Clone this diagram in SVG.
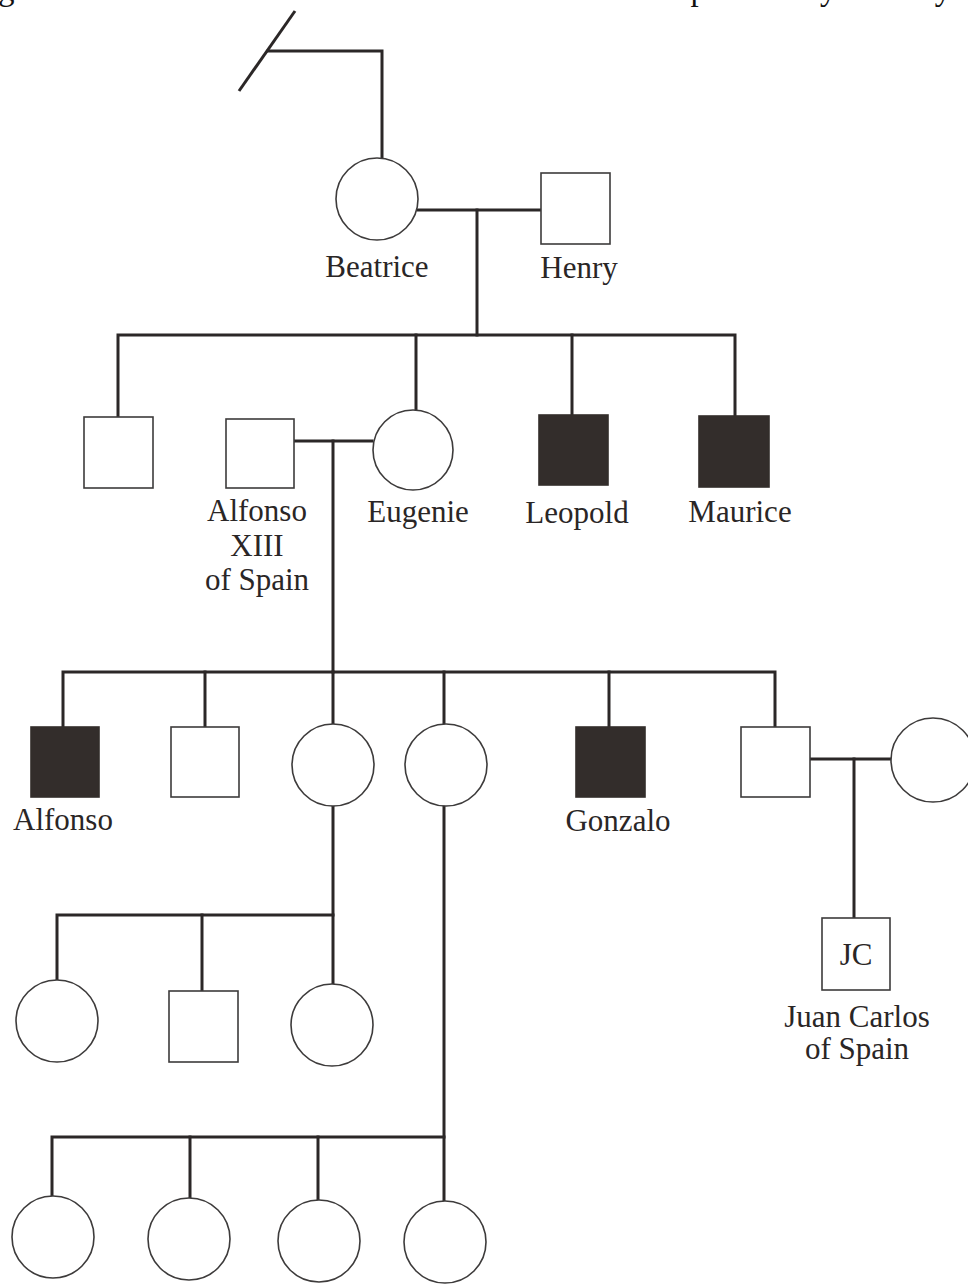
<svg xmlns="http://www.w3.org/2000/svg" width="968" height="1284" viewBox="0 0 968 1284">
<style>
.bg{fill:#ffffff}
.c{fill:none;stroke:#2b2727;stroke-width:3;stroke-linecap:square;stroke-linejoin:miter}
.f{fill:#ffffff;stroke:#3d3b3b;stroke-width:1.6}
.m{fill:#ffffff;stroke:#3d3b3b;stroke-width:1.6}
.a{fill:#332d2b;stroke:#332d2b;stroke-width:1.6}
.t{font-family:"Liberation Serif","Times New Roman",serif;font-size:31px;fill:#2a2626;text-anchor:middle}
.hdr{font-family:"Liberation Serif","Times New Roman",serif;font-size:33px;fill:#111111}
</style>
<rect class="bg" x="0" y="0" width="968" height="1284"/>
<text class="hdr" x="-2" y="0" textLength="959" lengthAdjust="spacing">gree below illustrates the inheritance of a trait in the Spanish Royal family.</text>
<g id="connectors">
  <path class="c" d="M239,91 L295,11" style="stroke-linecap:butt"/>
  <path class="c" d="M268,51 H382 V158"/>
  <path class="c" d="M418,210 H541"/>
  <path class="c" d="M477,210 V335"/>
  <path class="c" d="M118,417 V335 H735 V416"/>
  <path class="c" d="M416,335 V410"/>
  <path class="c" d="M572,335 V415"/>
  <path class="c" d="M294,441 H372"/>
  <path class="c" d="M333,441 V672"/>
  <path class="c" d="M63,727 V672 H775 V727"/>
  <path class="c" d="M205,672 V727"/>
  <path class="c" d="M333,672 V724"/>
  <path class="c" d="M444,672 V724"/>
  <path class="c" d="M609,672 V727"/>
  <path class="c" d="M810,759 H891"/>
  <path class="c" d="M854,759 V918"/>
  <path class="c" d="M333,806 V983"/>
  <path class="c" d="M57,979 V915 H333"/>
  <path class="c" d="M202,915 V991"/>
  <path class="c" d="M444,806 V1201"/>
  <path class="c" d="M52,1196 V1137 H444"/>
  <path class="c" d="M190,1137 V1198"/>
  <path class="c" d="M318,1137 V1200"/>
</g>
<g id="beatrice"><circle class="f" cx="377" cy="199" r="41"/><text class="t" x="377" y="277">Beatrice</text></g>
<g id="henry"><rect class="m" x="541" y="173" width="69" height="71"/><text class="t" x="579" y="278">Henry</text></g>
<g id="son1"><rect class="m" x="84" y="417" width="69" height="71"/></g>
<g id="alfonso13"><rect class="m" x="226" y="419" width="68" height="69"/><text class="t" x="257" y="521">Alfonso</text><text class="t" x="257" y="556">XIII</text><text class="t" x="257" y="590">of Spain</text></g>
<g id="eugenie"><circle class="f" cx="413" cy="450" r="40"/><text class="t" x="418" y="522">Eugenie</text></g>
<g id="leopold"><rect class="a" x="539" y="415" width="69" height="70"/><text class="t" x="577" y="523">Leopold</text></g>
<g id="maurice"><rect class="a" x="699" y="416" width="70" height="71"/><text class="t" x="740" y="522">Maurice</text></g>
<g id="alfonso"><rect class="a" x="31" y="727" width="68" height="70"/><text class="t" x="63" y="830">Alfonso</text></g>
<g id="son2"><rect class="m" x="171" y="727" width="68" height="70"/></g>
<g id="daughter1"><circle class="f" cx="333" cy="765" r="41"/></g>
<g id="daughter2"><circle class="f" cx="446" cy="765" r="41"/></g>
<g id="gonzalo"><rect class="a" x="576" y="727" width="69" height="70"/><text class="t" x="618" y="831">Gonzalo</text></g>
<g id="son6"><rect class="m" x="741" y="727" width="69" height="70"/></g>
<g id="wife"><circle class="f" cx="933" cy="760" r="42"/></g>
<g id="juancarlos"><rect class="m" x="822" y="918" width="68" height="72"/><text class="t" x="856" y="965">JC</text><text class="t" x="857" y="1027">Juan Carlos</text><text class="t" x="857" y="1059">of Spain</text></g>
<g id="gc1"><circle class="f" cx="57" cy="1021" r="41"/></g>
<g id="gc2"><rect class="m" x="169" y="991" width="69" height="71"/></g>
<g id="gc3"><circle class="f" cx="332" cy="1025" r="41"/></g>
<g id="gc4"><circle class="f" cx="53" cy="1237" r="41"/></g>
<g id="gc5"><circle class="f" cx="189" cy="1239" r="41"/></g>
<g id="gc6"><circle class="f" cx="319" cy="1241" r="41"/></g>
<g id="gc7"><circle class="f" cx="445" cy="1242" r="41"/></g>
</svg>
